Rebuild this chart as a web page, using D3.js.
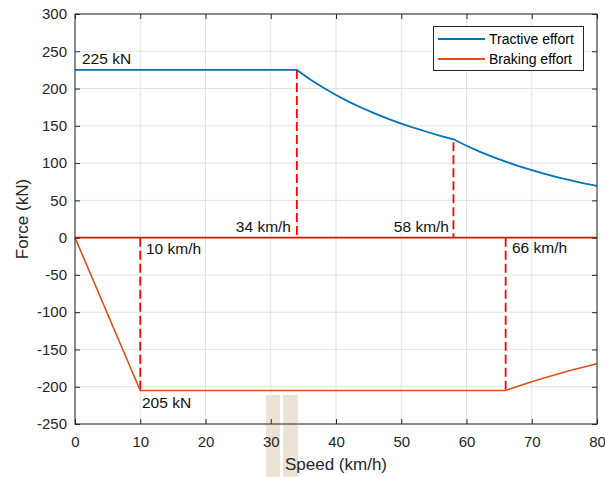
<!DOCTYPE html>
<html>
<head>
<meta charset="utf-8">
<script src="https://cdn.jsdelivr.net/npm/d3@7"></script>
<style>
  body { margin: 0; background: #fff; }
  svg { display: block; font-family: "Liberation Sans", Arial, Helvetica, sans-serif; }
</style>
</head>
<body>
<svg id="chart" width="605" height="477"></svg>
<script>
// speed (km/h) and force (kN)
const tractiveSpeed = [0, 34, 36, 38, 40, 42, 44, 46, 48, 50, 52, 54, 56, 58,
                       60, 62, 64, 66, 68, 70, 72, 74, 76, 78, 80];
const tractiveForce = [225, 225, 212.5, 201.3, 191.3, 182.1, 173.9, 166.3, 159.4, 153, 147.1, 141.7, 136.6, 131.9,
                       123.3, 115.4, 108.3, 101.9, 96.0, 90.6, 85.6, 81.0, 76.8, 72.9, 69.3];
const brakingSpeed = [0, 10, 66, 68, 70, 72, 74, 76, 78, 80];
const brakingForce = [0, -205, -205, -199.0, -193.3, -187.9, -182.8, -178.0, -173.5, -169.1];

// dashed markers: [speed, top force, bottom force]
const markers = [[34, 225, 0], [58, 128, 0], [10, 0, -205], [66, 0, -205]];

const xTicks = [0, 10, 20, 30, 40, 50, 60, 70, 80];
const yTicks = [-250, -200, -150, -100, -50, 0, 50, 100, 150, 200, 250, 300];

const svg = d3.select('#chart');
const mLeft = 75, mRight = 597, mTop = 14, mBottom = 424;

const x = d3.scaleLinear().domain([0, 80]).range([mLeft, mRight]);
const y = d3.scaleLinear().domain([-250, 300]).range([mBottom, mTop]);

const axisColor = '#262626';

// grid
const grid = svg.append('g');
grid.selectAll('.gx').data(xTicks).enter().append('line')
    .attr('x1', d => x(d)).attr('x2', d => x(d))
    .attr('y1', mTop).attr('y2', mBottom)
    .attr('stroke', '#e3e3e3').attr('stroke-width', 1);
grid.selectAll('.gy').data(yTicks).enter().append('line')
    .attr('x1', mLeft).attr('x2', mRight)
    .attr('y1', d => y(d)).attr('y2', d => y(d))
    .attr('stroke', '#e3e3e3').attr('stroke-width', 1);

// tan bars behind the x label
svg.append('rect').attr('x', 266).attr('y', 395).attr('width', 14).attr('height', 82).attr('fill', '#ebe3d3');
svg.append('rect').attr('x', 283).attr('y', 395).attr('width', 15).attr('height', 82).attr('fill', '#ebe3d3');

// zero line
svg.append('line')
    .attr('x1', x(0)).attr('x2', x(80))
    .attr('y1', y(0)).attr('y2', y(0))
    .attr('stroke', '#ff0000').attr('stroke-width', 1.8);

// dashed markers
svg.selectAll('.marker').data(markers).enter().append('line')
    .attr('x1', d => x(d[0])).attr('x2', d => x(d[0]))
    .attr('y1', d => y(d[1])).attr('y2', d => y(d[2]))
    .attr('stroke', '#ff0000').attr('stroke-width', 1.8)
    .attr('stroke-dasharray', '9,4');

const line = d3.line().x(d => x(d[0])).y(d => y(d[1]));

svg.append('path')
    .datum(d3.zip(tractiveSpeed, tractiveForce))
    .attr('d', line)
    .attr('fill', 'none').attr('stroke', '#0072BD').attr('stroke-width', 1.8);

svg.append('path')
    .datum(d3.zip(brakingSpeed, brakingForce))
    .attr('d', line)
    .attr('fill', 'none').attr('stroke', '#D95319').attr('stroke-width', 1.6);

// axes (ticks inside), plain hyphen for negatives like the original
const fmt = d => String(d);
const styleAxis = g => {
    g.select('.domain').remove();
    g.selectAll('.tick line').attr('stroke', axisColor);
    g.selectAll('.tick text').attr('fill', axisColor).style('font-size', '15px')
        .style('font-family', '"Liberation Sans", Arial, Helvetica, sans-serif');
};
svg.append('g').attr('transform', `translate(0,${mBottom})`)
    .call(d3.axisBottom(x).tickValues(xTicks).tickFormat(fmt).tickSizeInner(-5).tickSizeOuter(0).tickPadding(12))
    .call(styleAxis);
svg.append('g').attr('transform', `translate(0,${mTop})`)
    .call(d3.axisTop(x).tickValues(xTicks).tickSizeInner(-5).tickSizeOuter(0).tickFormat(''))
    .call(styleAxis);
svg.append('g').attr('transform', `translate(${mLeft},0)`)
    .call(d3.axisLeft(y).tickValues(yTicks).tickFormat(fmt).tickSizeInner(-5).tickSizeOuter(0).tickPadding(8))
    .call(styleAxis);
svg.append('g').attr('transform', `translate(${mRight},0)`)
    .call(d3.axisRight(y).tickValues(yTicks).tickSizeInner(-5).tickSizeOuter(0).tickFormat(''))
    .call(styleAxis);

svg.append('rect')
    .attr('x', mLeft).attr('y', mTop).attr('width', mRight - mLeft).attr('height', mBottom - mTop)
    .attr('fill', 'none').attr('stroke', axisColor).attr('stroke-width', 1);

// annotations
const notes = [
    {t: '225 kN', x: 82, y: 64, a: 'start'},
    {t: '34 km/h', x: 291, y: 232, a: 'end'},
    {t: '58 km/h', x: 449, y: 232, a: 'end'},
    {t: '10 km/h', x: 146, y: 254, a: 'start'},
    {t: '66 km/h', x: 512, y: 253, a: 'start'},
    {t: '205 kN', x: 142, y: 408, a: 'start'}
];
svg.selectAll('.note').data(notes).enter().append('text')
    .attr('x', d => d.x).attr('y', d => d.y)
    .attr('text-anchor', d => d.a)
    .style('font-size', '15.5px').attr('fill', '#111')
    .text(d => d.t);

// axis labels
svg.append('text')
    .attr('x', (mLeft + mRight) / 2).attr('y', 470)
    .attr('text-anchor', 'middle').style('font-size', '17px').attr('fill', axisColor)
    .text('Speed (km/h)');
svg.append('text')
    .attr('transform', `translate(28,${(mTop + mBottom) / 2}) rotate(-90)`)
    .attr('text-anchor', 'middle').style('font-size', '17px').attr('fill', axisColor)
    .text('Force (kN)');

// legend
const legend = svg.append('g');
legend.append('rect')
    .attr('x', 433.5).attr('y', 26.5).attr('width', 150).attr('height', 44)
    .attr('fill', '#fff').attr('stroke', axisColor).attr('stroke-width', 1);
const entries = [['Tractive effort', '#0072BD'], ['Braking effort', '#D95319']];
entries.forEach(([label, color], i) => {
    const cy = 39 + i * 20;
    legend.append('line')
        .attr('x1', 438).attr('x2', 485).attr('y1', cy).attr('y2', cy)
        .attr('stroke', color).attr('stroke-width', 1.8);
    legend.append('text')
        .attr('x', 489).attr('y', cy + 5)
        .style('font-size', '14px').attr('fill', '#000')
        .text(label);
});
</script>
</body>
</html>
